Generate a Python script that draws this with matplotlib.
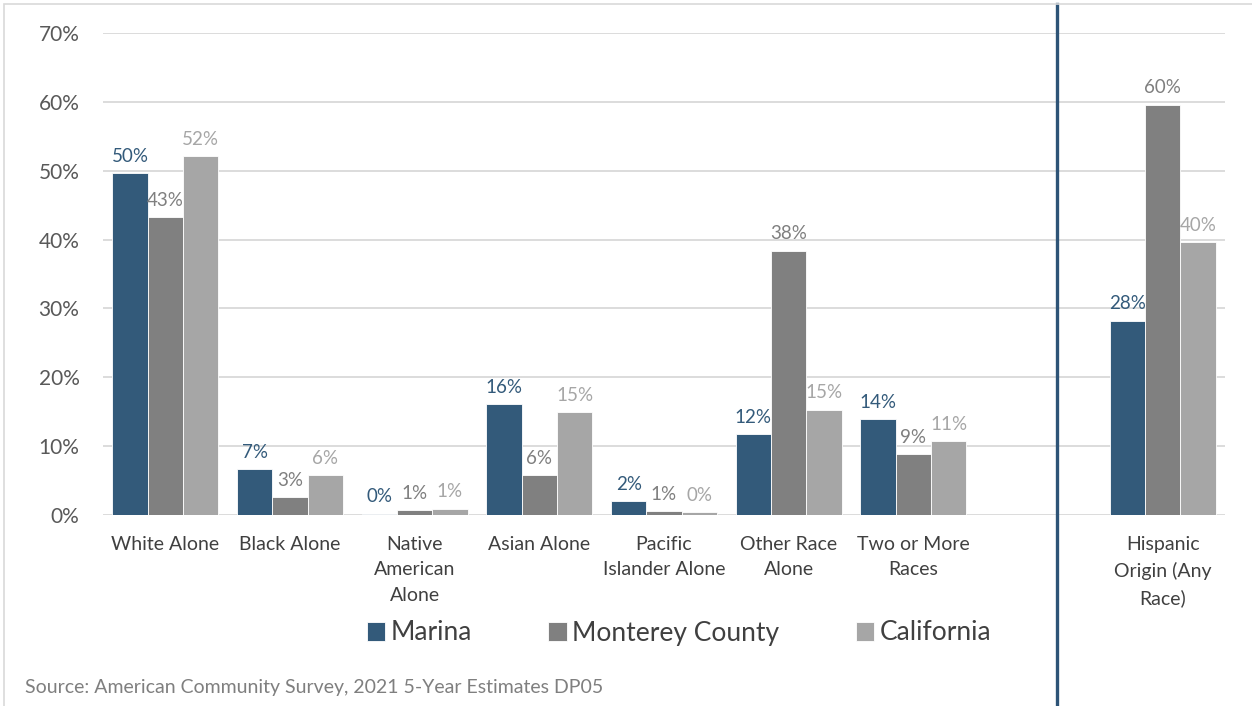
import numpy as np
import matplotlib.pyplot as plt
from matplotlib.patches import Rectangle

plt.rcParams['font.family'] = ['Lato', 'DejaVu Sans']

categories = ['White Alone', 'Black Alone', 'Native\nAmerican\nAlone', 'Asian Alone',
              'Pacific\nIslander Alone', 'Other Race\nAlone', 'Two or More\nRaces',
              'Hispanic\nOrigin (Any\nRace)']
marina = [49.6, 6.7, 0.2, 16.1, 2.0, 11.7, 13.9, 28.2]
monterey = [43.3, 2.6, 0.7, 5.8, 0.6, 38.4, 8.8, 59.6]
california = [52.1, 5.8, 0.9, 14.9, 0.4, 15.3, 10.7, 39.6]
series_names = ['Marina', 'Monterey County', 'California']

bar_colors = ['#335a7a', '#808080', '#a6a6a6']
label_colors = ['#335a7a', '#7f7f7f', '#a6a6a6']

fig = plt.figure(figsize=(12.52, 7.06), dpi=100)
ax = fig.add_axes([103 / 1252, 1 - 515 / 706, 1122 / 1252, 482 / 706])

# race groups first, then an empty slot before the Hispanic group
x = np.r_[np.arange(7), 8].astype(float)
w = 0.283
for k, (vals, name) in enumerate(zip([marina, monterey, california], series_names)):
    xs = x + (k - 1) * w
    ax.bar(xs, vals, width=w, color=bar_colors[k], edgecolor='white',
           linewidth=0.6, label=name, zorder=3)
    for xi, v in zip(xs, vals):
        ax.annotate(f'{v:.0f}%', (xi, v), xytext=(0, 6), textcoords='offset points',
                    ha='center', va='bottom', fontsize=13.5, color=label_colors[k], zorder=4)

ax.set_xlim(-0.5, 8.5)
ax.set_ylim(0, 70)
ax.set_yticks(np.arange(0, 71, 10))
ax.set_yticklabels([f'{t}%' for t in range(0, 71, 10)], fontsize=15, color='#595959')
ax.set_xticks(x)
ax.set_xticklabels(categories, fontsize=14, color='#404040', linespacing=1.6)
ax.tick_params(axis='y', length=0, pad=17)
ax.tick_params(axis='x', length=0, pad=15)
ax.grid(axis='y', color='#d9d9d9', linewidth=1.3, zorder=0)
for s in ax.spines.values():
    s.set_visible(False)

# divider between race groups and Hispanic origin
ax.axvline(7.15, ymin=-0.397, ymax=1.06, color='#2e5477', linewidth=2.4, clip_on=False, zorder=5)

fig.legend(loc='center', bbox_to_anchor=(679 / 1252, 1 - 633 / 706), ncol=3, frameon=False,
           fontsize=19, handlelength=0.7, handleheight=0.7, handletextpad=0.2,
           columnspacing=2.9, labelcolor='#404040')

fig.text(25 / 1252, 1 - 687 / 706, 'Source: American Community Survey, 2021 5-Year Estimates DP05',
         fontsize=14, color='#7f7f7f', va='center', ha='left')

# chart frame
fig.patches.append(Rectangle((4 / 1252, -0.01), 1.1, 1 - 4 / 706 + 0.01, transform=fig.transFigure,
                             fill=False, edgecolor='#d9d9d9', linewidth=1.2))

fig.savefig('out.png', dpi=100)
